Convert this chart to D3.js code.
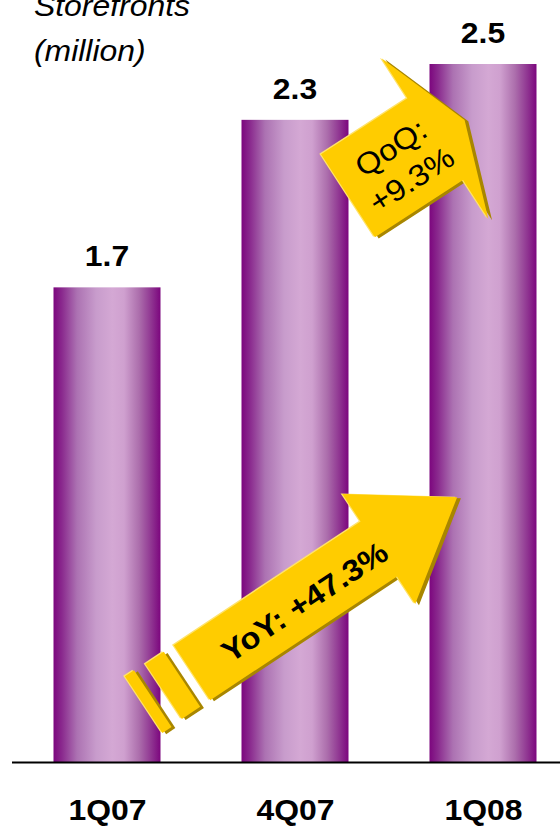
<!DOCTYPE html>
<html>
<head>
<meta charset="utf-8">
<script src="https://cdn.jsdelivr.net/npm/d3@7"></script>
<style>
  html, body { margin: 0; padding: 0; background: #ffffff; }
  svg { display: block; }
  text { font-family: "Liberation Sans", Arial, sans-serif; fill: #000; }
</style>
</head>
<body>
<svg id="chart" width="560" height="828"></svg>
<script>
// Quarterly storefront counts (million)
const quarters = ["1Q07", "4Q07", "1Q08"];
const storefronts = [1.7, 2.3, 2.5];
const valueLabels = ["1.7", "2.3", "2.5"];
const titleLines = ["Storefronts", "(million)"];
const growthNotes = { qoq: ["QoQ:", "+9.3%"], yoy: "YoY: +47.3%" };

const W = 560, H = 828;
const baseY = 762;
const svg = d3.select("#chart");

const x = d3.scalePoint().domain(quarters).range([107, 483]);
const barW = 107;
const y = d3.scaleLinear().domain([0, 2.5]).range([baseY, 64]);

// cylinder-like horizontal shading for the bars
const defs = svg.append("defs");
const grad = defs.append("linearGradient").attr("id", "barShade")
  .attr("x1", "0").attr("x2", "1").attr("y1", "0").attr("y2", "0");
[
  [0, "#7c067e"], [0.08, "#8a2a8e"], [0.22, "#ac72b2"], [0.4, "#c89ccc"],
  [0.55, "#d4a8d4"], [0.66, "#cfa0cf"], [0.8, "#ac6eac"], [0.92, "#8e3290"], [1, "#7c067e"]
].forEach(([o, c]) => grad.append("stop").attr("offset", o).attr("stop-color", c));

// bars
svg.append("g").selectAll("rect")
  .data(quarters.map((q, i) => ({ q, v: storefronts[i], label: valueLabels[i] })))
  .join("rect")
  .attr("x", d => x(d.q) - barW / 2)
  .attr("width", barW)
  .attr("y", d => y(d.v))
  .attr("height", d => y(0) - y(d.v))
  .attr("fill", "url(#barShade)");

// value labels
const sx = 1.1; // slightly wide lettering
svg.append("g").selectAll("text")
  .data(quarters.map((q, i) => ({ q, v: storefronts[i], label: valueLabels[i] })))
  .join("text")
  .attr("transform", d => `translate(${x(d.q)},${y(d.v) - 21}) scale(${sx},1)`)
  .attr("text-anchor", "middle")
  .attr("font-size", 29)
  .attr("font-weight", "bold")
  .text(d => d.label);

// axis baseline
svg.append("line")
  .attr("x1", 12).attr("x2", W)
  .attr("y1", baseY + 0.5).attr("y2", baseY + 0.5)
  .attr("stroke", "#000").attr("stroke-width", 2);

// category axis labels
const xAxis = svg.append("g")
  .attr("transform", `translate(0,${baseY})`)
  .call(d3.axisBottom(x).tickSize(0).tickPadding(0));
xAxis.select(".domain").remove();
xAxis.selectAll(".tick text")
  .attr("y", 0)
  .attr("dy", 0)
  .attr("transform", `translate(0,58) scale(${sx},1)`)
  .attr("font-family", "\"Liberation Sans\", Arial, sans-serif")
  .attr("font-size", 29)
  .attr("font-weight", "bold")
  .attr("fill", "#000");

// title
svg.append("g").selectAll("text")
  .data(titleLines)
  .join("text")
  .attr("transform", (d, i) => `translate(34,${16 + i * 45}) scale(${sx},1)`)
  .attr("font-size", 29)
  .attr("font-style", "italic")
  .text(d => d);

// growth arrows with an extruded edge
const GOLD = "#ffcc00", GOLD_DARK = "#a88600", GOLD_LIGHT = "#ffe36a";

function drawShape(g, pts) {
  const line = d3.line();
  g.append("path").attr("d", line(pts) + "Z")
    .attr("fill", GOLD_DARK).attr("transform", "translate(2.5,3)");
  g.append("path").attr("d", line(pts) + "Z")
    .attr("fill", GOLD_LIGHT).attr("transform", "translate(-1.2,-1.4)");
  g.append("path").attr("d", line(pts) + "Z").attr("fill", GOLD);
}

function arrowGroup(ox, oy, angle) {
  return svg.append("g").attr("transform", `translate(${ox},${oy}) rotate(${angle})`);
}

// QoQ arrow: from 4Q07 towards 1Q08
{
  const g = arrowGroup(x("4Q07") + 53, y(2.028), -33);
  const pts = [[0, -49.5], [103, -49.5], [103, -97], [139, 0], [105, 96], [105, 49.5], [0, 49.5]];
  drawShape(g, pts);
  g.selectAll("text.q").data(growthNotes.qoq).join("text")
    .attr("class", "q")
    .attr("transform", (d, i) => `translate(62,${i === 0 ? -17 : 21}) scale(${sx},1)`)
    .attr("text-anchor", "middle")
    .attr("dominant-baseline", "central")
    .attr("font-size", 30)
    .text(d => d);
}

// YoY arrow: from 1Q07 towards 1Q08
{
  const g = svg.append("g");
  const ox = x("1Q07") + 85, oy = y(0.32);
  const a = arrowGroup(ox, oy, -33.5);
  drawShape(a, [[-58, -34], [-47, -34], [-47, 34], [-58, 34]]);
  drawShape(a, [[-34, -33], [-12, -33], [-12, 33], [-34, 33]]);
  drawShape(a, [[0, -33], [224, -33], [224, -66], [318, 0], [224, 66], [224, 33], [0, 33]]);
  a.append("text")
    .attr("transform", `translate(133,3) scale(${sx},1)`)
    .attr("text-anchor", "middle")
    .attr("dominant-baseline", "central")
    .attr("font-size", 30)
    .attr("font-weight", "bold")
    .text(growthNotes.yoy);
}
</script>
</body>
</html>
